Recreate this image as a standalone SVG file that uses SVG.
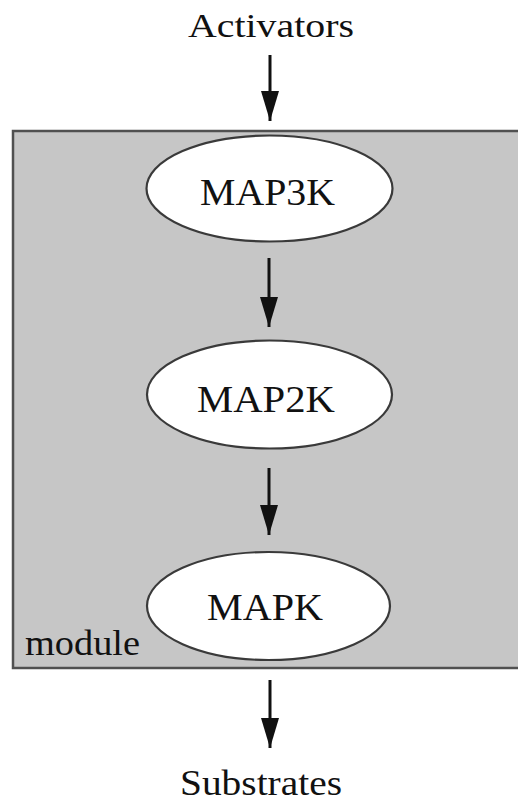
<svg xmlns="http://www.w3.org/2000/svg" width="518" height="802" viewBox="0 0 518 802">
<style>
.lbl{font-family:"Liberation Serif","Times New Roman",serif;fill:#111;}
.node ellipse{fill:#ffffff;stroke:#3a3a3a;stroke-width:2.2;}
.conn line{stroke:#111;stroke-width:3;}
</style>
<defs>
<marker id="ah" markerUnits="userSpaceOnUse" markerWidth="18" markerHeight="30" viewBox="0 0 18 30" refX="9" refY="29" orient="auto-start-reverse">
<path d="M0,0 L18,0 L9,30 Z" fill="#111" transform="rotate(-90 9 15) translate(0,0)"/>
</marker>
<marker id="arr" markerUnits="userSpaceOnUse" markerWidth="30" markerHeight="18" viewBox="0 0 30 18" refX="30" refY="9" orient="auto">
<path d="M0,0 L30,9 L0,18 Z" fill="#111"/>
</marker>
</defs>
<rect width="518" height="802" fill="#ffffff"/>
<g id="module">
<rect x="13" y="131" width="515" height="537" fill="#c6c6c6" stroke="#505050" stroke-width="2.5"/>
<text class="lbl" x="25" y="655" font-size="36" textLength="115" lengthAdjust="spacingAndGlyphs">module</text>
</g>
<g id="activators">
<text class="lbl" x="271" y="37" font-size="34" text-anchor="middle" textLength="166" lengthAdjust="spacingAndGlyphs">Activators</text>
</g>
<g id="map3k" class="node">
<ellipse cx="269.5" cy="188.5" rx="123" ry="53"/>
<text class="lbl" x="267.5" y="205" font-size="38" text-anchor="middle" textLength="135" lengthAdjust="spacingAndGlyphs">MAP3K</text>
</g>
<g id="map2k" class="node">
<ellipse cx="269.5" cy="394.5" rx="122.5" ry="54"/>
<text class="lbl" x="266" y="412" font-size="38" text-anchor="middle" textLength="138" lengthAdjust="spacingAndGlyphs">MAP2K</text>
</g>
<g id="mapk" class="node">
<ellipse cx="268.5" cy="606" rx="121.5" ry="54"/>
<text class="lbl" x="265" y="620" font-size="38" text-anchor="middle" textLength="116" lengthAdjust="spacingAndGlyphs">MAPK</text>
</g>
<g id="substrates">
<text class="lbl" x="261" y="795" font-size="36" text-anchor="middle" textLength="162" lengthAdjust="spacingAndGlyphs">Substrates</text>
</g>
<g id="connectors" class="conn">
<line x1="270" y1="55" x2="270" y2="121" marker-end="url(#arr)"/>
<line x1="269" y1="258" x2="269" y2="327" marker-end="url(#arr)"/>
<line x1="269" y1="468" x2="269" y2="535" marker-end="url(#arr)"/>
<line x1="270" y1="680" x2="270" y2="748" marker-end="url(#arr)"/>
</g>
</svg>
